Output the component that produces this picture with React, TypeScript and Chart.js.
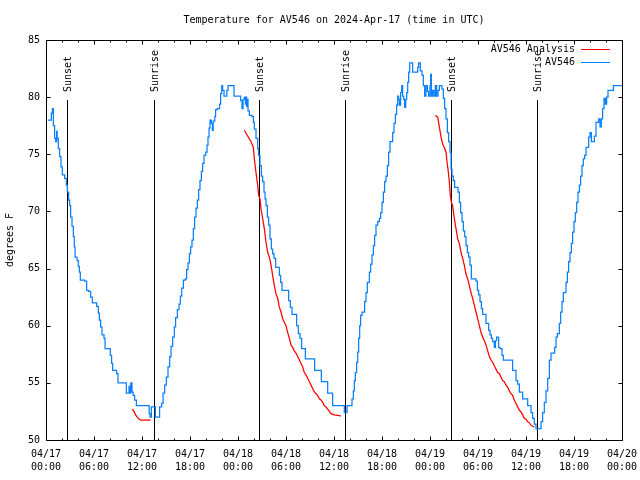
import { useEffect, useRef } from "react";
import { Chart, registerables } from "chart.js";

Chart.register(...registerables);

const TITLE = "Temperature for AV546 on 2024-Apr-17 (time in UTC)";
const Y_LABEL = "degrees F";
const SERIES_NAMES = ["AV546 Analysis", "AV546"];
const SERIES_COLORS = ["#ff0000", "#0a80ff"];

const X_TICK_DATES = ["04/17", "04/17", "04/17", "04/17", "04/18", "04/18", "04/18", "04/18", "04/19", "04/19", "04/19", "04/19", "04/20"];
const X_TICK_TIMES = ["00:00", "06:00", "12:00", "18:00", "00:00", "06:00", "12:00", "18:00", "00:00", "06:00", "12:00", "18:00", "00:00"];
const Y_MIN = 50;
const Y_MAX = 85;
const Y_STEP = 5;

const EVENT_HOURS = [2.67, 13.54, 26.67, 37.42, 50.67, 61.42];
const EVENT_LABELS = ["Sunset", "Sunrise", "Sunset", "Sunrise", "Sunset", "Sunrise"];

// Observations (hours since 04/17 00:00 UTC, value held until next point)
const OBS_HOURS = [
  0.25, 0.67, 0.8, 0.92, 1.08, 1.2, 1.33, 1.4, 1.54, 1.7, 1.87, 2.04, 2.33, 2.54, 2.67, 2.83, 2.96, 3.08, 3.25, 3.42,
  3.54, 3.63, 3.88, 4.04, 4.17, 4.29, 4.83, 5.08, 5.33, 5.58, 5.8, 6.33, 6.54, 6.67, 6.83, 7.0, 7.25, 7.38, 8.04, 8.2,
  8.33, 8.83, 9.0, 10.04, 10.38, 10.5, 10.6, 10.75, 10.9, 11.08, 11.3, 12.9, 13.0, 13.17, 13.67, 14.2, 14.46, 14.63, 14.83, 15.04,
  15.25, 15.46, 15.63, 15.83, 16.04, 16.2, 16.42, 16.63, 16.8, 16.96, 17.17, 17.42, 17.58, 17.75, 17.92, 18.08, 18.25, 18.42, 18.58, 18.75,
  18.92, 19.08, 19.25, 19.42, 19.58, 19.75, 19.96, 20.13, 20.25, 20.38, 20.5, 20.67, 20.8, 20.9, 21.1, 21.2, 21.4, 21.7, 21.83, 21.96,
  22.08, 22.25, 22.6, 22.75, 23.5, 24.33, 24.5, 24.63, 24.8, 24.92, 25.0, 25.08, 25.17, 25.25, 25.42, 25.75, 25.92, 26.04, 26.25, 26.46,
  26.58, 26.75, 26.92, 27.08, 27.25, 27.38, 27.5, 27.67, 27.83, 28.0, 28.17, 28.33, 28.5, 28.71, 29.17, 29.33, 29.5, 30.33, 30.54, 30.75,
  31.33, 31.54, 31.75, 31.96, 32.42, 33.58, 34.42, 35.21, 35.83, 37.29, 37.63, 38.25, 38.42, 38.54, 38.67, 38.83, 38.96, 39.08, 39.21, 39.33,
  39.5, 39.83, 40.0, 40.17, 40.42, 40.58, 40.75, 40.92, 41.08, 41.25, 41.46, 41.67, 41.83, 42.0, 42.17, 42.33, 42.5, 42.67, 42.83, 43.0,
  43.33, 43.5, 43.67, 43.83, 43.96, 44.08, 44.17, 44.33, 44.46, 44.58, 44.71, 44.83, 44.96, 45.08, 45.21, 45.33, 45.46, 45.83, 46.46, 46.58,
  46.79, 47.0, 47.17, 47.33, 47.5, 47.67, 47.83, 48.0, 48.08, 48.17, 48.33, 48.5, 48.67, 48.83, 49.0, 49.17, 49.5, 49.67, 49.83, 50.0,
  50.17, 50.33, 50.5, 50.63, 50.75, 50.92, 51.08, 51.5, 51.67, 51.83, 52.0, 52.17, 52.33, 52.5, 52.67, 52.83, 53.0, 53.17, 53.75, 53.92,
  54.08, 54.25, 54.42, 54.58, 55.0, 55.33, 55.5, 55.67, 55.83, 56.04, 56.17, 56.33, 56.58, 56.75, 57.0, 57.17, 58.33, 58.75, 58.96, 59.17,
  59.58, 60.21, 60.63, 60.83, 61.04, 61.25, 61.88, 62.08, 62.29, 62.5, 62.71, 62.92, 63.13, 63.58, 63.75, 63.92, 64.17, 64.33, 64.5, 64.67,
  65.0, 65.17, 65.33, 65.5, 65.67, 65.83, 66.0, 66.17, 66.33, 66.5, 66.67, 66.83, 67.0, 67.17, 67.33, 67.5, 67.83, 68.0, 68.17, 68.54,
  68.75, 69.08, 69.25, 69.42, 69.58, 69.75, 69.92, 70.08, 70.25, 70.92, 71.08, 72.0,
];
const OBS_TEMPS = [
  78.0, 78.6, 79.0, 77.5, 76.4, 76.1, 77.0, 76.4, 75.5, 74.8, 73.9, 73.2, 72.9, 72.3, 71.7, 71.0, 70.5, 69.5, 68.7, 67.8,
  66.9, 66.0, 65.7, 65.2, 64.7, 64.0, 63.9, 63.1, 63.0, 62.5, 62.0, 61.7, 61.1, 60.5, 59.9, 59.2, 58.9, 58.0, 57.4, 56.7,
  56.1, 55.8, 55.0, 54.1, 54.7, 54.1, 55.0, 54.2, 53.9, 53.5, 53.0, 52.3, 52.0, 52.9, 52.0, 52.9, 53.2, 54.1, 54.8, 55.5,
  56.4, 57.3, 58.2, 59.0, 59.9, 60.7, 61.4, 61.9, 62.6, 63.3, 64.0, 64.1, 64.9, 65.5, 66.3, 66.9, 67.5, 68.5, 69.5, 70.3,
  71.0, 71.9, 72.7, 73.5, 74.2, 74.9, 75.2, 75.8, 76.5, 77.3, 78.0, 77.7, 77.1, 77.9, 78.3, 78.9, 79.0, 79.4, 80.3, 81.0,
  80.6, 80.1, 80.6, 81.0, 80.1, 79.7, 79.0, 79.8, 80.0, 79.4, 80.0, 79.2, 79.8, 78.8, 78.4, 78.3, 77.8, 77.2, 76.4, 75.5,
  74.9, 74.0, 73.1, 72.6, 71.7, 71.1, 70.5, 69.5, 68.8, 67.6, 66.7, 66.3, 65.9, 65.1, 64.4, 63.8, 63.1, 62.2, 61.6, 61.0,
  60.0, 59.3, 58.9, 58.0, 57.1, 56.1, 55.1, 54.1, 53.0, 52.4, 53.0, 53.6, 54.3, 55.2, 55.9, 56.8, 57.7, 58.9, 60.0, 60.9,
  61.2, 62.1, 62.9, 63.8, 64.7, 65.4, 66.2, 67.0, 67.9, 68.8, 69.1, 69.4, 69.9, 70.8, 71.7, 72.6, 73.1, 74.0, 75.2, 76.1,
  76.9, 77.7, 78.5, 79.3, 80.1, 79.8, 79.3, 80.4, 81.0, 80.1, 79.8, 79.1, 79.8, 80.4, 81.3, 82.2, 83.0, 82.2, 82.6, 83.0,
  82.3, 81.9, 81.0, 80.1, 81.0, 80.5, 80.1, 81.0, 82.0, 80.1, 80.6, 80.1, 81.0, 80.1, 80.6, 81.0, 80.7, 79.9, 79.0, 78.1,
  76.9, 76.1, 75.2, 73.7, 73.1, 72.7, 72.1, 71.7, 70.8, 69.9, 69.1, 68.3, 67.8, 67.0, 66.4, 66.0, 65.3, 64.1, 63.9, 63.1,
  62.7, 62.1, 61.5, 61.0, 60.2, 59.6, 59.2, 58.9, 58.6, 58.1, 58.7, 59.0, 58.1, 58.0, 57.4, 57.0, 56.1, 55.2, 54.9, 54.2,
  53.6, 53.0, 52.4, 51.9, 51.4, 51.0, 51.6, 52.4, 53.3, 54.3, 55.4, 57.0, 57.6, 58.1, 59.0, 59.3, 60.2, 61.2, 62.1, 62.9,
  63.8, 64.7, 65.6, 66.4, 67.2, 68.2, 69.1, 69.9, 70.8, 71.7, 72.3, 73.1, 74.0, 74.6, 74.9, 75.6, 76.5, 76.9, 76.1, 76.6,
  77.8, 78.1, 77.4, 78.1, 79.0, 79.9, 79.4, 80.0, 80.6, 81.0, 81.0, 81.0,
];

// Analysis (three segments separated by null)
const ANA_HOURS = [
  10.79, 11.0, 11.2, 11.4, 11.6, 11.83, 13.08,
  18.0,
  24.79, 25.21, 25.63, 25.92, 26.04, 26.25, 26.46, 26.58, 26.75, 26.88, 27.08, 27.29, 27.5, 27.71, 27.92, 28.13, 28.33, 28.54, 28.75, 28.96,
  29.17, 29.38, 29.58, 29.79, 30.0, 30.21, 30.42, 30.63, 30.83, 31.04, 31.25, 31.46, 31.67, 31.88, 32.08, 32.29, 32.5, 32.71, 32.92, 33.13,
  33.33, 33.54, 33.75, 33.96, 34.17, 34.38, 34.58, 34.79, 35.0, 35.21, 35.42, 35.63, 36.04, 36.46, 36.88,
  42.0,
  48.67, 48.96, 49.17, 49.38, 49.58, 49.79, 50.0, 50.13, 50.25, 50.42, 50.54, 50.67, 50.83, 51.04, 51.25, 51.46, 51.67, 51.88, 52.08, 52.29,
  52.5, 52.71, 52.92, 53.13, 53.33, 53.54, 53.75, 53.96, 54.17, 54.38, 54.58, 54.79, 55.0, 55.21, 55.42, 55.63, 55.83, 56.04, 56.25, 56.46,
  56.67, 56.88, 57.08, 57.29, 57.5, 57.71, 57.92, 58.13, 58.33, 58.54, 58.75, 58.96, 59.17, 59.38, 59.58, 59.79, 60.0, 60.21, 60.42, 60.63,
  60.83, 61.04,
];
const ANA_TEMPS = [
  52.7, 52.5, 52.2, 52.0, 51.85, 51.75, 51.75,
  null,
  77.1, 76.6, 76.1, 75.6, 74.6, 73.4, 72.3, 71.4, 71.1, 70.2, 69.4, 68.5, 67.3, 66.4, 66.0, 65.3, 64.4, 63.5, 62.8, 62.4,
  61.6, 61.2, 60.6, 60.3, 60.0, 59.4, 58.9, 58.3, 58.1, 57.8, 57.6, 57.3, 57.0, 56.7, 56.4, 55.9, 55.7, 55.4, 55.1, 54.8,
  54.5, 54.2, 54.05, 53.9, 53.6, 53.5, 53.3, 53.0, 52.9, 52.7, 52.5, 52.3, 52.2, 52.15, 52.1,
  null,
  78.4, 78.25, 77.4, 76.5, 75.9, 75.6, 75.2, 74.3, 73.7, 72.6, 71.4, 70.8, 70.5, 69.4, 68.5, 67.6, 67.2, 66.4, 65.9, 65.3,
  64.5, 64.1, 63.5, 62.9, 62.4, 61.8, 61.2, 60.6, 60.0, 59.4, 59.0, 58.7, 58.3, 57.8, 57.3, 57.0, 56.8, 56.5, 56.2, 55.9,
  55.8, 55.5, 55.2, 55.1, 54.8, 54.6, 54.3, 54.05, 53.9, 53.5, 53.2, 52.9, 52.6, 52.45, 52.2, 51.9, 51.8, 51.6, 51.5, 51.3,
  51.2, 51.15,
];

const FONT = '"DejaVu Sans Mono", "Liberation Mono", monospace';

export default function App() {
  const ref = useRef<HTMLCanvasElement>(null);

  useEffect(() => {
    document.body.style.margin = "0";
    const canvas = ref.current;
    if (!canvas) return;

    const overlay = {
      id: "overlay",
      beforeDatasetsDraw(chart: any) {
        const { ctx, chartArea: a, scales } = chart;
        const x = scales.x;
        ctx.save();
        ctx.strokeStyle = "#000";
        ctx.lineWidth = 1;
        const yTop = Math.round(a.top + (a.bottom - a.top) * 0.15);
        EVENT_HOURS.forEach((h, i) => {
          const px = Math.round(x.getPixelForValue(h)) + 0.5;
          ctx.beginPath();
          ctx.moveTo(px, yTop);
          ctx.lineTo(px, a.bottom);
          ctx.stroke();
          ctx.save();
          ctx.translate(px + 1, yTop - 8);
          ctx.rotate(-Math.PI / 2);
          ctx.font = `10px ${FONT}`;
          ctx.fillStyle = "#000";
          ctx.textAlign = "left";
          ctx.textBaseline = "middle";
          ctx.fillText(EVENT_LABELS[i], 0, 0);
          ctx.restore();
        });
        ctx.restore();
      },
      afterDraw(chart: any) {
        const { ctx, chartArea: a, scales } = chart;
        const x = scales.x;
        const y = scales.y;
        ctx.save();
        ctx.strokeStyle = "#000";
        ctx.lineWidth = 1;
        const L = Math.round(a.left) + 0.5;
        const R = Math.round(a.right) + 0.5;
        const T = Math.round(a.top) + 0.5;
        const B = Math.round(a.bottom) + 0.5;
        ctx.beginPath();
        ctx.rect(L, T, R - L, B - T);
        ctx.stroke();
        ctx.beginPath();
        for (let h = 0; h <= 72; h += 2) {
          const px = Math.round(x.getPixelForValue(h)) + 0.5;
          const len = h % 6 === 0 ? 4 : 2;
          ctx.moveTo(px, B);
          ctx.lineTo(px, B - len);
          ctx.moveTo(px, T);
          ctx.lineTo(px, T + len);
        }
        for (let v = Y_MIN; v <= Y_MAX; v += Y_STEP) {
          const py = Math.round(y.getPixelForValue(v)) + 0.5;
          ctx.moveTo(L, py);
          ctx.lineTo(L + 4, py);
          ctx.moveTo(R, py);
          ctx.lineTo(R - 4, py);
        }
        ctx.stroke();

        ctx.fillStyle = "#000";
        ctx.font = `10px ${FONT}`;
        ctx.textAlign = "center";
        ctx.textBaseline = "middle";
        ctx.fillText(TITLE, (a.left + a.right) / 2, 20);
        ctx.save();
        ctx.translate(10, (a.top + a.bottom) / 2);
        ctx.rotate(-Math.PI / 2);
        ctx.fillText(Y_LABEL, 0, 0);
        ctx.restore();
        const rows = [49.5, 62.5];
        SERIES_NAMES.forEach((name, i) => {
          ctx.textAlign = "right";
          ctx.fillStyle = "#000";
          ctx.fillText(name, 575, rows[i]);
          ctx.strokeStyle = SERIES_COLORS[i];
          ctx.beginPath();
          ctx.moveTo(581, rows[i]);
          ctx.lineTo(610, rows[i]);
          ctx.stroke();
        });
        ctx.restore();
      },
    };

    const chart = new Chart(canvas, {
      type: "line",
      data: {
        datasets: [
          {
            label: SERIES_NAMES[0],
            data: ANA_HOURS.map((h, i) => ({ x: h, y: ANA_TEMPS[i] })),
            borderColor: SERIES_COLORS[0],
            borderWidth: 1.25,
            pointRadius: 0,
            spanGaps: false,
            tension: 0,
          },
          {
            label: SERIES_NAMES[1],
            data: OBS_HOURS.map((h, i) => ({ x: h, y: OBS_TEMPS[i] })),
            borderColor: SERIES_COLORS[1],
            borderWidth: 1.25,
            pointRadius: 0,
            stepped: true,
            tension: 0,
          },
        ],
      },
      options: {
        responsive: false,
        animation: false,
        devicePixelRatio: 1,
        layout: { padding: { top: 40, right: 18, left: 0, bottom: 0 } },
        plugins: {
          legend: { display: false },
          title: { display: false },
          tooltip: { enabled: false },
        },
        scales: {
          x: {
            type: "linear",
            min: 0,
            max: 72,
            afterFit: (s: any) => {
              s.height = 40;
              s.paddingLeft = 0;
              s.paddingRight = 0;
            },
            grid: { display: false, drawTicks: false },
            border: { display: false },
            ticks: {
              stepSize: 6,
              autoSkip: false,
              maxRotation: 0,
              minRotation: 0,
              padding: 8,
              color: "#000",
              font: { family: FONT, size: 10, lineHeight: 1.3 },
              callback: (v: any) => {
                const i = Math.round(Number(v) / 6);
                return [X_TICK_DATES[i], X_TICK_TIMES[i]];
              },
            },
          },
          y: {
            min: Y_MIN,
            max: Y_MAX,
            afterFit: (s: any) => {
              s.width = 46;
            },
            grid: { display: false, drawTicks: false },
            border: { display: false },
            ticks: {
              stepSize: Y_STEP,
              padding: 6,
              color: "#000",
              font: { family: FONT, size: 10 },
            },
          },
        },
      },
      plugins: [overlay],
    });

    return () => chart.destroy();
  }, []);

  return <canvas ref={ref} width={640} height={480} style={{ display: "block" }} />;
}
